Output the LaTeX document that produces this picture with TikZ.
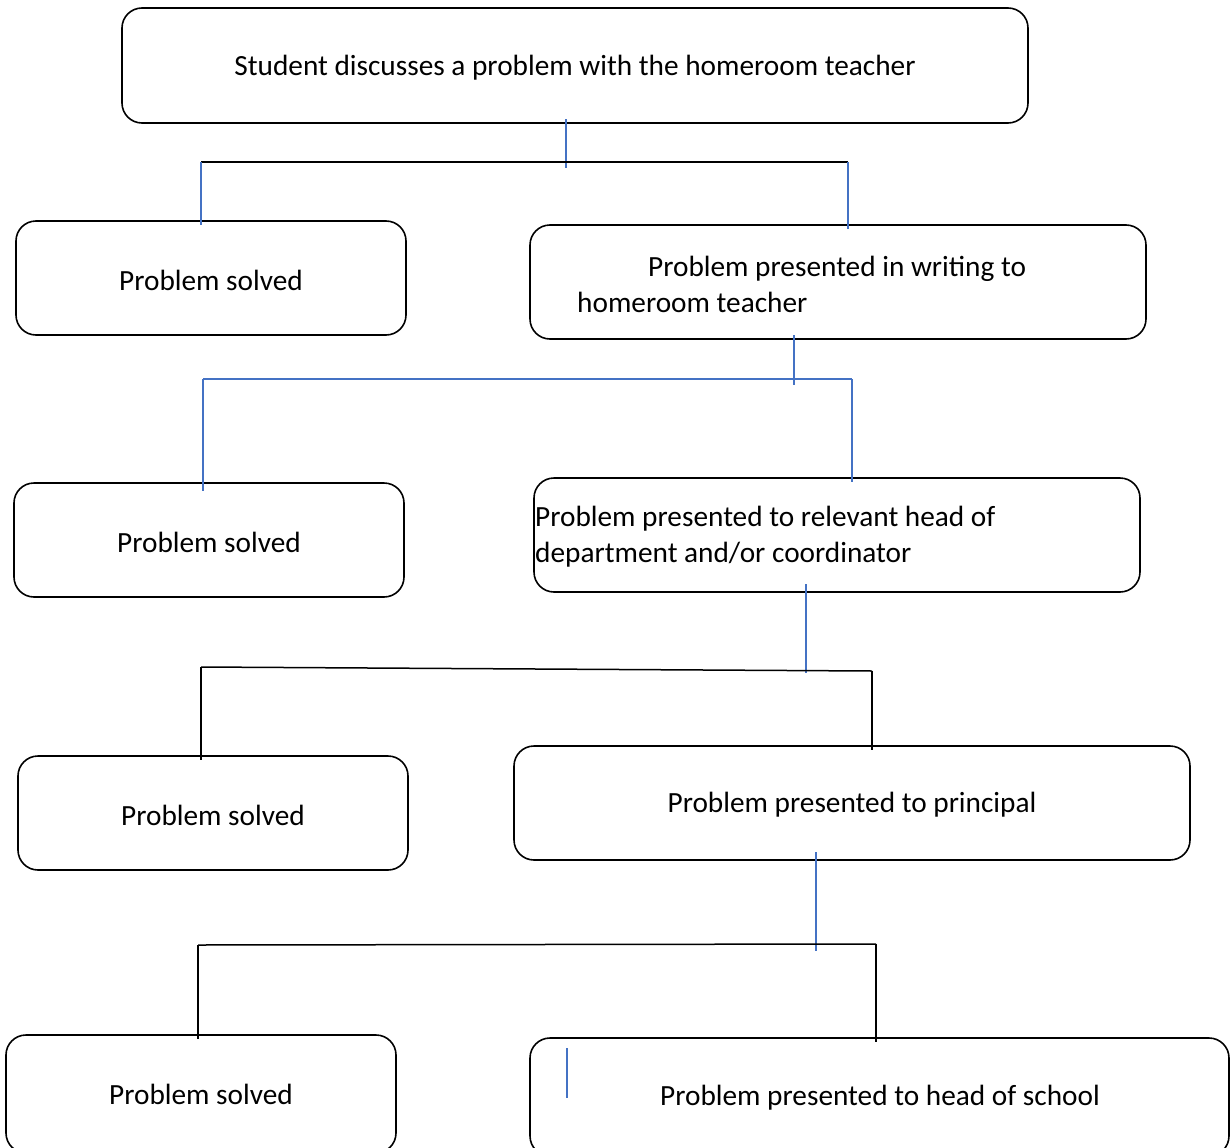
\documentclass[tikz,border=0pt]{standalone}
\usepackage{fontspec}
\setmainfont{Carlito}
\definecolor{lnblue}{RGB}{68,114,196}
\begin{document}
\begin{tikzpicture}[x=1pt,y=-1pt,
  box/.style={draw=black,line width=1.6pt,rounded corners=20pt,inner sep=0pt},
  txt/.style={inner sep=0pt,font=\fontsize{29.3}{36}\selectfont,text=black},
  bl/.style={draw=lnblue,line width=1.5pt},
  bk/.style={draw=black,line width=1.5pt}]
\useasboundingbox (0,0) rectangle (1231,1148);
\clip (0,0) rectangle (1231,1148);
\fill[white] (0,0) rectangle (1231,1148);
% boxes
\node[box,minimum width=906pt,minimum height=115pt] (b0) at (575,65.5) {};
\node[box,minimum width=390pt,minimum height=114pt] (s1) at (211,278) {};
\node[box,minimum width=616pt,minimum height=114pt] (p1) at (838,282) {};
\node[box,minimum width=390pt,minimum height=114pt] (s2) at (209,540) {};
\node[box,minimum width=606pt,minimum height=114pt] (p2) at (837,535) {};
\node[box,minimum width=390pt,minimum height=114pt] (s3) at (213,813) {};
\node[box,minimum width=676pt,minimum height=114pt] (p3) at (852,803) {};
\node[box,minimum width=390pt,minimum height=118pt] (s4) at (201,1094) {};
\node[box,minimum width=699pt,minimum height=118pt] (p4) at (879.5,1097) {};
% texts
\node[txt] (t0) at (575,68) {Student discusses a problem with the homeroom teacher};
\node[txt] (ts1) at (211,280) {Problem solved};
\node[txt,anchor=west,align=left] (tp1) at (577,284) {\hspace*{71pt}Problem presented in writing to\\homeroom teacher};
\node[txt] (ts2) at (209,542) {Problem solved};
\node[txt,anchor=west,align=left] (tp2) at (535,537) {Problem presented to relevant head of\\department and/or coordinator};
\node[txt] (ts3) at (213,815) {Problem solved};
\node[txt] (tp3) at (852,805) {Problem presented to principal};
\node[txt] (ts4) at (201,1094) {Problem solved};
\node[txt] (tp4) at (880,1098) {Problem presented to head of school};
% connector points
\coordinate (a1) at (566,119); \coordinate (a2) at (566,168);
\coordinate (aL) at (201,162); \coordinate (aR) at (848,162);
\coordinate (aLe) at (201,225); \coordinate (aRe) at (848,229);
\coordinate (b1) at (794,335); \coordinate (b2) at (794,385);
\coordinate (bL) at (203,379); \coordinate (bR) at (852,379);
\coordinate (bLe) at (203,491); \coordinate (bRe) at (852,482);
\coordinate (c1) at (806,584); \coordinate (c2) at (806,673);
\coordinate (cL) at (201,667); \coordinate (cR) at (872,671);
\coordinate (cLe) at (201,760); \coordinate (cRe) at (872,750);
\coordinate (d1) at (816,852); \coordinate (d2) at (816,951);
\coordinate (dL) at (198,945); \coordinate (dR) at (876,944);
\coordinate (dLe) at (198,1039); \coordinate (dRe) at (876,1042);
\coordinate (e1) at (567,1048); \coordinate (e2) at (567,1098);
% level 1
\draw[bl] (a1) -- (a2);
\draw[bk] (aL) -- (aR);
\draw[bl] (aL) -- (aLe);
\draw[bl] (aR) -- (aRe);
% level 2
\draw[bl] (b1) -- (b2);
\draw[bl] (bL) -- (bR);
\draw[bl] (bL) -- (bLe);
\draw[bl] (bR) -- (bRe);
% level 3
\draw[bl] (c1) -- (c2);
\draw[bk] (cL) -- (cR);
\draw[bk] (cL) -- (cLe);
\draw[bk] (cR) -- (cRe);
% level 4
\draw[bl] (d1) -- (d2);
\draw[bk] (dL) -- (dR);
\draw[bk] (dL) -- (dLe);
\draw[bk] (dR) -- (dRe);
% stray mark in last box
\draw[bl] (e1) -- (e2);
\end{tikzpicture}
\end{document}
